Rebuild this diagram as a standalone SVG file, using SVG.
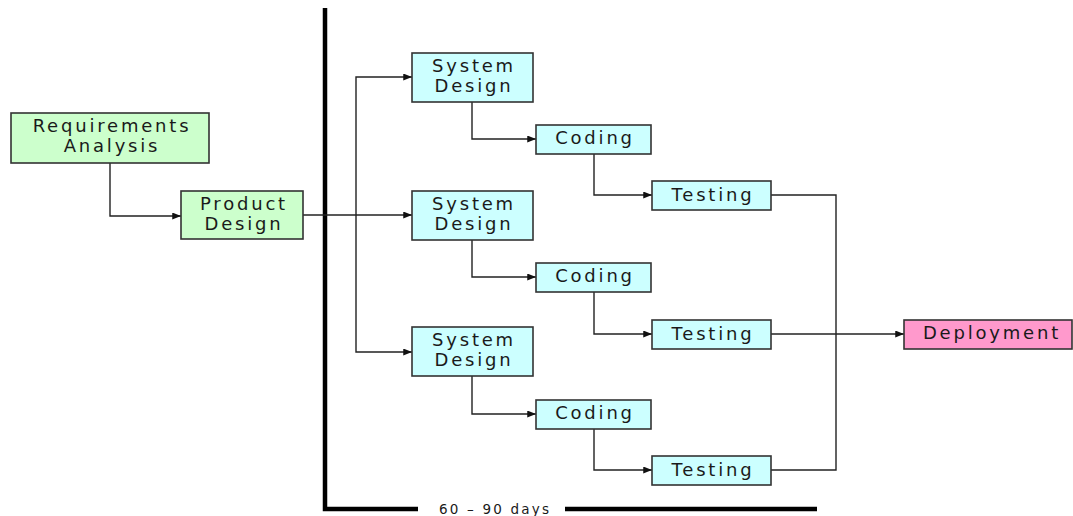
<svg xmlns="http://www.w3.org/2000/svg" width="1073" height="516" viewBox="0 0 1073 516">
<defs>
<marker id="arr" viewBox="0 0 10 8" refX="10" refY="4" markerWidth="10" markerHeight="7" markerUnits="userSpaceOnUse" orient="auto">
<path d="M0,0 L10,4 L0,8 z" fill="#111"/>
</marker>
<style>
.box{stroke:#333;stroke-width:1.6}
.g{fill:#ccffcc}.c{fill:#ccffff}.p{fill:#ff99cc}
text{font-family:"DejaVu Sans","Liberation Sans",sans-serif;font-size:18px;fill:#1a1a1a;text-anchor:middle;letter-spacing:2.8px}
.con{fill:none;stroke:#222;stroke-width:1.4}
.thick{fill:none;stroke:#000;stroke-width:4.5}
.lbl{font-size:13.5px;letter-spacing:2.2px}
</style>
</defs>
<rect width="1073" height="516" fill="#fff"/>
<g id="timeline">
<path class="thick" d="M325,8 V509 H418"/>
<path class="thick" d="M565,509 H817"/>
<text class="lbl" x="495" y="514">60 – 90 days</text>
</g>
<g id="connectors">
<path class="con" d="M110,163 V216 H181" marker-end="url(#arr)"/>
<path class="con" d="M303,215 H412" marker-end="url(#arr)"/>
<path class="con" d="M356,215 V77 H412" marker-end="url(#arr)"/>
<path class="con" d="M356,215 V352 H412" marker-end="url(#arr)"/>
<path class="con" d="M472,102 V139 H536" marker-end="url(#arr)"/>
<path class="con" d="M472,240 V277 H536" marker-end="url(#arr)"/>
<path class="con" d="M472,376 V414 H536" marker-end="url(#arr)"/>
<path class="con" d="M594,154 V195 H652" marker-end="url(#arr)"/>
<path class="con" d="M594,292 V334 H652" marker-end="url(#arr)"/>
<path class="con" d="M594,429 V470 H652" marker-end="url(#arr)"/>
<path class="con" d="M771,195 H836 V470 H771"/>
<path class="con" d="M771,334 H904" marker-end="url(#arr)"/>
</g>
<g id="requirements">
<rect class="box g" x="11" y="113" width="198" height="50"/>
<text x="112" y="132">Requirements</text>
<text x="112" y="152">Analysis</text>
</g>
<g id="product">
<rect class="box g" x="181" y="191" width="122" height="48"/>
<text x="244" y="210">Product</text>
<text x="244" y="230">Design</text>
</g>
<g id="sd1">
<rect class="box c" x="412" y="53" width="121" height="49"/>
<text x="474" y="72">System</text>
<text x="474" y="92">Design</text>
</g>
<g id="sd2">
<rect class="box c" x="412" y="191" width="121" height="49"/>
<text x="474" y="210">System</text>
<text x="474" y="230">Design</text>
</g>
<g id="sd3">
<rect class="box c" x="412" y="327" width="121" height="49"/>
<text x="474" y="346">System</text>
<text x="474" y="366">Design</text>
</g>
<g id="coding1">
<rect class="box c" x="536" y="125" width="115" height="29"/>
<text x="595" y="144">Coding</text>
</g>
<g id="coding2">
<rect class="box c" x="536" y="263" width="115" height="29"/>
<text x="595" y="282">Coding</text>
</g>
<g id="coding3">
<rect class="box c" x="536" y="400" width="115" height="29"/>
<text x="595" y="419">Coding</text>
</g>
<g id="testing1">
<rect class="box c" x="652" y="181" width="119" height="29"/>
<text x="713" y="201">Testing</text>
</g>
<g id="testing2">
<rect class="box c" x="652" y="320" width="119" height="29"/>
<text x="713" y="340">Testing</text>
</g>
<g id="testing3">
<rect class="box c" x="652" y="456" width="119" height="29"/>
<text x="713" y="476">Testing</text>
</g>
<g id="deployment">
<rect class="box p" x="904" y="320" width="168" height="29"/>
<text x="992" y="339">Deployment</text>
</g>
</svg>
